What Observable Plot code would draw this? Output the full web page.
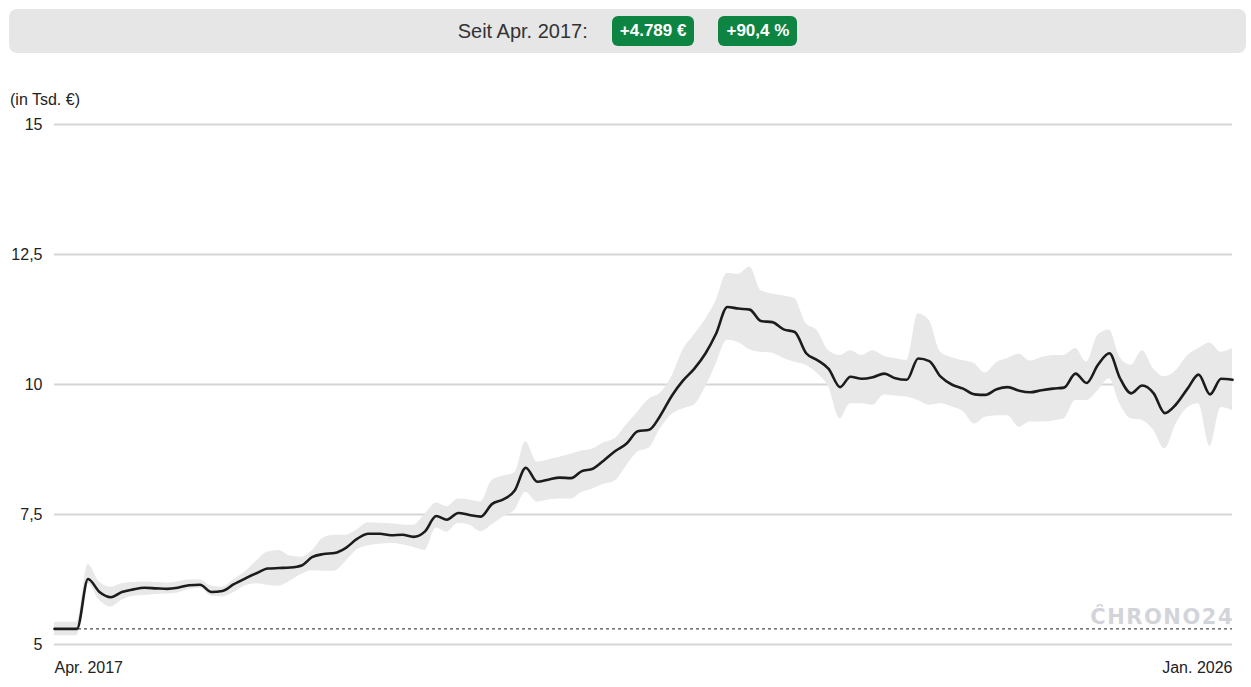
<!DOCTYPE html>
<html>
<head>
<meta charset="utf-8">
<script src="https://cdn.jsdelivr.net/npm/d3@7"></script>
<script src="https://cdn.jsdelivr.net/npm/@observablehq/plot@0.6"></script>
<style>
  html, body { margin: 0; padding: 0; background: #fff; }
  body { width: 1251px; height: 687px; position: relative; overflow: hidden; font-family: "Liberation Sans", Arial, Helvetica, sans-serif; color: #222; }
  #header { position: absolute; left: 9px; top: 9px; width: 1237px; height: 44px; background: #e6e6e6; border-radius: 8px;
            display: flex; align-items: center; justify-content: center; }
  #header .lbl { font-size: 20px; color: #333; margin-right: 24px; }
  #header .badge { background: #0e8443; color: #fff; font-weight: bold; font-size: 17px; height: 30px; line-height: 30px;
                   padding: 0 8px; border-radius: 6px; margin-right: 24px; }
  #header .badge:last-child { margin-right: 0; }
  #unit { position: absolute; left: 10px; top: 91px; font-size: 16px; color: #222; }
  #chart { position: absolute; left: 0; top: 110px; }
</style>
</head>
<body>
<div id="header"></div>
<div id="unit"></div>
<div id="chart"></div>
<script>
// ---- data (monthly, in thousand €) ----
const startMonth = "2017-04-01";
const price = [5.30, 5.30, 5.30, 6.26, 6.01, 5.91, 6.01, 6.06, 6.09, 6.08,
  6.07, 6.09, 6.14, 6.15, 6.01, 6.03, 6.16, 6.27, 6.37, 6.46,
  6.47, 6.48, 6.52, 6.68, 6.74, 6.76, 6.86, 7.03, 7.13, 7.13,
  7.10, 7.11, 7.07, 7.17, 7.47, 7.40, 7.53, 7.49, 7.46, 7.70,
  7.79, 7.96, 8.40, 8.13, 8.17, 8.21, 8.20, 8.33, 8.38, 8.54,
  8.72, 8.86, 9.10, 9.13, 9.40, 9.78, 10.07, 10.30, 10.60, 10.97,
  11.49, 11.46, 11.44, 11.22, 11.20, 11.06, 11.01, 10.60, 10.47, 10.30,
  9.95, 10.15, 10.11, 10.14, 10.21, 10.12, 10.09, 10.50, 10.45, 10.15,
  10.00, 9.92, 9.81, 9.80, 9.91, 9.95, 9.88, 9.85, 9.89, 9.92,
  9.94, 10.21, 10.03, 10.38, 10.60, 10.13, 9.83, 9.98, 9.83, 9.45,
  9.62, 9.92, 10.19, 9.81, 10.11, 10.09];
const lower = [5.17, 5.17, 5.17, 6.17, 5.85, 5.72, 5.85, 5.93, 5.94, 5.96,
  5.97, 5.99, 6.06, 6.08, 5.93, 5.92, 6.00, 6.13, 6.17, 6.14,
  6.12, 6.22, 6.35, 6.42, 6.41, 6.41, 6.60, 6.82, 6.90, 6.93,
  6.94, 6.92, 6.87, 6.81, 7.24, 7.16, 7.33, 7.30, 7.17, 7.30,
  7.45, 7.58, 7.93, 7.74, 7.78, 7.80, 7.80, 7.92, 7.99, 8.08,
  8.15, 8.43, 8.70, 8.78, 9.15, 9.42, 9.53, 9.60, 9.95, 10.38,
  10.85, 10.81, 10.67, 10.62, 10.60, 10.50, 10.43, 10.37, 10.21, 9.95,
  9.34, 9.63, 9.63, 9.60, 9.80, 9.78, 9.76, 9.69, 9.60, 9.63,
  9.57, 9.48, 9.24, 9.37, 9.40, 9.40, 9.18, 9.28, 9.28, 9.30,
  9.34, 9.69, 9.69, 9.88, 10.11, 9.63, 9.34, 9.31, 9.12, 8.76,
  9.24, 9.55, 9.63, 8.81, 9.56, 9.50];
const upper = [5.43, 5.43, 5.43, 6.54, 6.20, 6.10, 6.17, 6.19, 6.20, 6.19,
  6.18, 6.20, 6.24, 6.24, 6.12, 6.10, 6.25, 6.40, 6.60, 6.78,
  6.81, 6.70, 6.68, 6.80, 7.05, 7.10, 7.10, 7.20, 7.34, 7.33,
  7.32, 7.30, 7.29, 7.50, 7.72, 7.65, 7.80, 7.78, 7.74, 8.15,
  8.24, 8.30, 8.90, 8.51, 8.55, 8.60, 8.66, 8.72, 8.76, 8.88,
  8.96, 9.22, 9.47, 9.72, 9.83, 10.15, 10.65, 10.95, 11.25, 11.60,
  12.14, 12.12, 12.26, 11.81, 11.74, 11.70, 11.65, 11.17, 11.04, 10.65,
  10.56, 10.65, 10.56, 10.65, 10.54, 10.50, 10.46, 11.36, 11.23, 10.62,
  10.52, 10.46, 10.40, 10.22, 10.42, 10.50, 10.58, 10.45, 10.52, 10.56,
  10.56, 10.69, 10.43, 10.95, 11.05, 10.53, 10.37, 10.65, 10.30, 10.15,
  10.27, 10.55, 10.69, 10.80, 10.62, 10.69];
const yTicks = [5, 7.5, 10, 12.5, 15];
const xTickLabels = ["Apr. 2017", "Jan. 2026"];
const headerLabel = "Seit Apr. 2017:";
const badges = ["+4.789 €", "+90,4 %"];
const unitLabel = "(in Tsd. €)";
const watermark = "C\u0311HRONO24";

// ---- header ----
const header = document.getElementById("header");
const lbl = document.createElement("span"); lbl.className = "lbl"; lbl.textContent = headerLabel; header.appendChild(lbl);
badges.forEach(b => { const s = document.createElement("span"); s.className = "badge"; s.textContent = b; header.appendChild(s); });
document.getElementById("unit").textContent = unitLabel;

// ---- chart ----
const t0 = new Date(startMonth);
const data = price.map((v, i) => ({date: d3.utcMonth.offset(t0, i), price: v, lo: lower[i], hi: upper[i]}));
const first = data[0].date, last = data[data.length - 1].date;
const fmt = d => String(d).replace(".", ",");

const chart = Plot.plot({
  width: 1251,
  height: 577,
  marginLeft: 54,
  marginRight: 19,
  marginTop: 14,
  marginBottom: 43,
  style: {fontFamily: "'Liberation Sans', Arial, Helvetica, sans-serif", fontSize: "16px", color: "#222", background: "transparent", overflow: "visible"},
  x: {type: "utc", domain: [first, last]},
  y: {domain: [5, 15]},
  marks: [
    Plot.gridY(yTicks, {stroke: "#d6d6d6", strokeOpacity: 1, strokeWidth: 2}),
    Plot.axisY(yTicks, {tickSize: 0, tickPadding: 12, tickFormat: fmt, fill: "#222", fontSize: 16, label: null}),
    Plot.axisX([first], {tickSize: 0, tickPadding: 17, textAnchor: "start", tickFormat: () => xTickLabels[0], fill: "#222", fontSize: 16, label: null}),
    Plot.axisX([last], {tickSize: 0, tickPadding: 17, textAnchor: "end", tickFormat: () => xTickLabels[1], fill: "#222", fontSize: 16, label: null}),
    Plot.areaY(data, {x: "date", y1: "lo", y2: "hi", fill: "#e8e8e8", curve: "monotone-x"}),
    Plot.ruleY([price[0]], {stroke: "#222", strokeWidth: 1, strokeDasharray: "3,3"}),
    Plot.text([watermark], {frameAnchor: "bottom-right", lineAnchor: "bottom", dy: -21, dx: 1.5, fill: "#d3d4da", fontSize: 21, fontWeight: "bold", fontFamily: "'DejaVu Sans', sans-serif"}),
    Plot.line(data, {x: "date", y: "price", stroke: "#1c1c1c", strokeWidth: 2.6, curve: "monotone-x"})
  ]
});
d3.select(chart).selectAll("text").filter(function() { return this.textContent === watermark; })
  .style("letter-spacing", "1.5px");
document.getElementById("chart").appendChild(chart);
</script>
</body>
</html>
